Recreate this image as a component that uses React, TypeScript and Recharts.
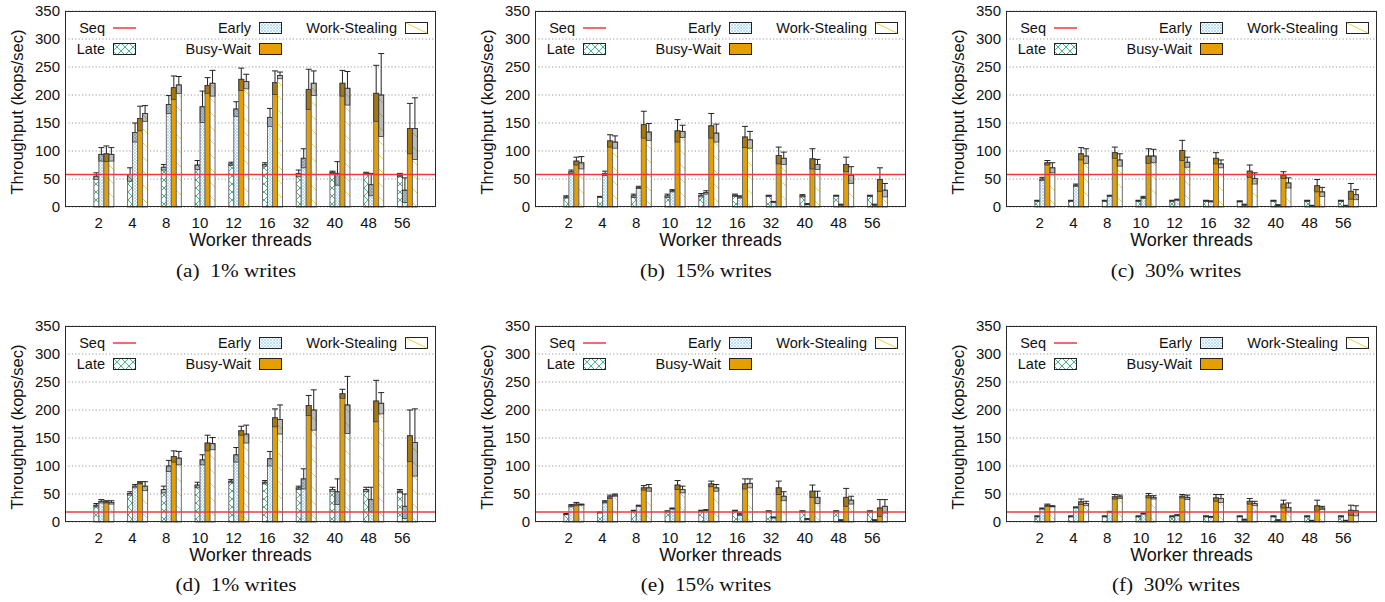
import React from 'react';
import {
  BarChart,
  Bar,
  XAxis,
  YAxis,
  CartesianGrid,
  ReferenceLine,
} from 'recharts';

// Worker thread counts (x categories)
const CATS = ['2', '4', '8', '10', '12', '16', '32', '40', '48', '56'];
const Y_TICKS = [0, 50, 100, 150, 200, 250, 300, 350];

// (a) 1% writes, top row
const A_LATE = [55, 58, 71, 75, 77, 76, 60, 62, 60, 57];
const A_LATE_ERR = [6, 12, 5, 8, 3, 3, 6, 2, 2, 3];
const A_EARLY = [94, 133, 183, 179, 175, 160, 87, 60, 40, 30];
const A_EARLY_ERR = [12, 17, 16, 28, 13, 16, 17, 21, 20, 22];
const A_BW = [95, 158, 213, 217, 228, 222, 210, 221, 203, 140];
const A_BW_ERR = [14, 22, 21, 14, 20, 21, 36, 23, 50, 45];
const A_WS = [94, 167, 218, 221, 224, 235, 221, 212, 200, 140];
const A_WS_ERR = [12, 14, 15, 23, 13, 6, 22, 30, 74, 55];
const A_SEQ = 58;

// (b) 15% writes, top row
const B_LATE = [18, 18, 20, 20, 21, 21, 20, 20, 20, 20];
const B_LATE_ERR = [2, 1, 3, 3, 3, 2, 1, 2, 1, 1];
const B_EARLY = [63, 60, 35, 29, 26, 18, 9, 5, 4, 4];
const B_EARLY_ERR = [3, 4, 2, 2, 3, 2, 1, 1, 1, 1];
const B_BW = [82, 118, 147, 136, 145, 125, 92, 86, 76, 49];
const B_BW_ERR = [7, 11, 24, 20, 22, 19, 15, 18, 13, 21];
const B_WS = [79, 116, 134, 135, 132, 120, 87, 76, 57, 30];
const B_WS_ERR = [11, 11, 15, 11, 16, 15, 11, 9, 15, 12];
const B_SEQ = 58;

// (c) 30% writes, top row
const C_LATE = [11, 11, 11, 11, 11, 11, 10, 11, 11, 11];
const C_LATE_ERR = [1, 1, 1, 1, 1, 1, 1, 1, 1, 1];
const C_EARLY = [50, 39, 20, 17, 13, 10, 4, 3, 2, 2];
const C_EARLY_ERR = [3, 2, 1, 2, 1, 1, 1, 1, 1, 1];
const C_BW = [79, 95, 97, 91, 101, 87, 64, 57, 38, 28];
const C_BW_ERR = [4, 11, 10, 13, 18, 10, 11, 6, 11, 14];
const C_WS = [70, 91, 84, 91, 80, 77, 51, 43, 27, 22];
const C_WS_ERR = [9, 13, 11, 12, 9, 7, 10, 9, 8, 9];
const C_SEQ = 58;

// (d) 1% writes, bottom row
const D_LATE = [30, 51, 58, 66, 73, 71, 61, 58, 58, 55];
const D_LATE_ERR = [3, 3, 6, 5, 3, 3, 3, 4, 4, 3];
const D_EARLY = [37, 64, 100, 111, 120, 113, 77, 54, 40, 28];
const D_EARLY_ERR = [3, 3, 10, 9, 13, 13, 18, 23, 22, 22];
const D_BW = [36, 70, 117, 141, 163, 186, 208, 229, 216, 154];
const D_BW_ERR = [2, 2, 10, 14, 8, 16, 18, 8, 37, 46];
const D_WS = [35, 64, 114, 140, 157, 183, 200, 209, 212, 142];
const D_WS_ERR = [3, 8, 12, 11, 16, 26, 36, 51, 19, 60];
const D_SEQ = 18;

// (e) 15% writes, bottom row
const E_LATE = [14, 17, 20, 19, 20, 20, 19, 19, 19, 19];
const E_LATE_ERR = [1, 1, 1, 1, 1, 1, 1, 1, 1, 1];
const E_EARLY = [29, 36, 29, 24, 21, 14, 8, 5, 3, 3];
const E_EARLY_ERR = [2, 2, 1, 1, 1, 2, 1, 1, 1, 1];
const E_BW = [32, 45, 61, 66, 68, 68, 61, 55, 44, 25];
const E_BW_ERR = [3, 3, 4, 8, 5, 9, 12, 11, 16, 15];
const E_WS = [31, 48, 61, 58, 61, 69, 46, 44, 39, 28];
const E_WS_ERR = [1, 2, 6, 6, 6, 8, 8, 11, 7, 12];
const E_SEQ = 18;

// (f) 30% writes, bottom row
const F_LATE = [10, 10, 10, 10, 10, 10, 10, 10, 10, 10];
const F_LATE_ERR = [1, 1, 1, 1, 1, 1, 1, 1, 1, 1];
const F_EARLY = [24, 26, 18, 15, 12, 9, 4, 3, 2, 2];
const F_EARLY_ERR = [1, 1, 1, 1, 1, 1, 1, 1, 1, 1];
const F_BW = [30, 36, 45, 47, 46, 43, 37, 32, 29, 21];
const F_BW_ERR = [2, 5, 4, 4, 3, 6, 5, 7, 10, 9];
const F_WS = [28, 33, 45, 44, 44, 42, 33, 26, 25, 20];
const F_WS_ERR = [1, 4, 3, 3, 4, 7, 4, 8, 3, 9];
const F_SEQ = 18;

const CAPTIONS = ['(a)  1% writes', '(b)  15% writes', '(c)  30% writes', '(d)  1% writes', '(e)  15% writes', '(f)  30% writes'];

const FONT = '"Liberation Sans", Arial, sans-serif';
const PLOT_W = 371;
const PLOT_H = 196;
const TOP_M = 11;
const X_AXIS_H = 40;
const SEQ_COLOR = '#ee3a3f';

// panel layout: plot-area left/top in page coordinates
const PANELS = [
  { late: A_LATE, lateErr: A_LATE_ERR, early: A_EARLY, earlyErr: A_EARLY_ERR, bw: A_BW, bwErr: A_BW_ERR, ws: A_WS, wsErr: A_WS_ERR, seq: A_SEQ, plotLeft: 65, plotTop: 11, yw: 65, caption: CAPTIONS[0], capX: 236, capY: 271 },
  { late: B_LATE, lateErr: B_LATE_ERR, early: B_EARLY, earlyErr: B_EARLY_ERR, bw: B_BW, bwErr: B_BW_ERR, ws: B_WS, wsErr: B_WS_ERR, seq: B_SEQ, plotLeft: 535, plotTop: 11, yw: 75, caption: CAPTIONS[1], capX: 706, capY: 271 },
  { late: C_LATE, lateErr: C_LATE_ERR, early: C_EARLY, earlyErr: C_EARLY_ERR, bw: C_BW, bwErr: C_BW_ERR, ws: C_WS, wsErr: C_WS_ERR, seq: C_SEQ, plotLeft: 1006, plotTop: 11, yw: 86, caption: CAPTIONS[2], capX: 1176, capY: 271 },
  { late: D_LATE, lateErr: D_LATE_ERR, early: D_EARLY, earlyErr: D_EARLY_ERR, bw: D_BW, bwErr: D_BW_ERR, ws: D_WS, wsErr: D_WS_ERR, seq: D_SEQ, plotLeft: 65, plotTop: 326, yw: 65, caption: CAPTIONS[3], capX: 236, capY: 585 },
  { late: E_LATE, lateErr: E_LATE_ERR, early: E_EARLY, earlyErr: E_EARLY_ERR, bw: E_BW, bwErr: E_BW_ERR, ws: E_WS, wsErr: E_WS_ERR, seq: E_SEQ, plotLeft: 535, plotTop: 326, yw: 75, caption: CAPTIONS[4], capX: 706, capY: 585 },
  { late: F_LATE, lateErr: F_LATE_ERR, early: F_EARLY, earlyErr: F_EARLY_ERR, bw: F_BW, bwErr: F_BW_ERR, ws: F_WS, wsErr: F_WS_ERR, seq: F_SEQ, plotLeft: 1006, plotTop: 326, yw: 86, caption: CAPTIONS[5], capX: 1176, capY: 585 },
];

const SERIES = [
  { key: 'late', errKey: 'lateErr', fill: 'url(#patLate)' },
  { key: 'early', errKey: 'earlyErr', fill: 'url(#patEarly)' },
  { key: 'bw', errKey: 'bwErr', fill: '#e69f00' },
  { key: 'ws', errKey: 'wsErr', fill: 'url(#patWS)' },
];

// gap between label and group center
const SHIFT = 5;
const HALF = PLOT_W / 22;

function Patterns() {
  return (
    <svg width={0} height={0} style={{ position: 'absolute' }}>
      <defs>
        <pattern id="patLate" patternUnits="userSpaceOnUse" width={8} height={8}>
          <rect width={8} height={8} fill="#fff" />
          <path d="M0,0 L8,8 M8,0 L0,8" stroke="#33b07f" strokeWidth={0.9} />
        </pattern>
        <pattern id="patEarly" patternUnits="userSpaceOnUse" width={3} height={3}>
          <rect width={3} height={3} fill="#fff" />
          <path d="M0,0 L3,3 M3,0 L0,3" stroke="#a9d7f4" strokeWidth={0.8} />
        </pattern>
        <pattern id="patWS" patternUnits="userSpaceOnUse" width={14} height={14}>
          <rect width={14} height={14} fill="#fff" />
          <path d="M0,0 L14,14" stroke="#e8d44d" strokeWidth={1} />
        </pattern>
      </defs>
    </svg>
  );
}

// bar with a shaded box below the top and a whisker above it
function makeShape(key: string, errKey: string, fill: string) {
  return (props: any) => {
    const { x, y, width, height, payload } = props;
    const value = payload[key];
    const err = payload[errKey];
    if (!value || !height) return <g />;
    const k = height / value;
    const boxH = Math.min(err * k, height);
    const cx = x + width / 2;
    const top = y - err * k;
    return (
      <g>
        <rect x={x} y={y} width={width} height={height} fill={fill} stroke="#6e6e6e" strokeWidth={1} />
        <rect x={x} y={y} width={width} height={boxH} fill="rgba(30,30,30,0.3)" stroke="#3a3a3a" strokeWidth={0.8} />
        <line x1={cx} y1={y} x2={cx} y2={top} stroke="#222" strokeWidth={1} />
        <line x1={cx - 3} y1={top} x2={cx + 3} y2={top} stroke="#222" strokeWidth={1} />
      </g>
    );
  };
}

function XTick(props: any) {
  const { x, y, payload } = props;
  return (
    <text x={x - SHIFT} y={y} dy="0.71em" textAnchor="middle" fontSize={15} fontFamily={FONT} fill="#111">
      {payload.value}
    </text>
  );
}

function Swatch({ kind }: { kind: string }) {
  if (kind === 'seq') {
    return (
      <svg width={23} height={12} style={{ display: 'block' }}>
        <line x1={0} y1={6} x2={23} y2={6} stroke={SEQ_COLOR} strokeWidth={1.5} />
      </svg>
    );
  }
  const fill = kind === 'late' ? 'url(#patLate)' : kind === 'early' ? 'url(#patEarly)' : kind === 'bw' ? '#e69f00' : '#fff';
  return (
    <svg width={23} height={12} style={{ display: 'block' }}>
      <rect x={0.5} y={0.5} width={22} height={11} fill={fill} stroke="#222" strokeWidth={1} />
      {kind === 'ws' && <line x1={1} y1={1} x2={22} y2={11} stroke="#e8d44d" strokeWidth={1} />}
    </svg>
  );
}

const LEGEND = [
  { label: 'Seq', kind: 'seq', tx: 40, ty: 17 },
  { label: 'Late', kind: 'late', tx: 40, ty: 38 },
  { label: 'Early', kind: 'early', tx: 186, ty: 17 },
  { label: 'Busy-Wait', kind: 'bw', tx: 186, ty: 38 },
  { label: 'Work-Stealing', kind: 'ws', tx: 332, ty: 17 },
];

function KeyBox({ left, top }: { left: number; top: number }) {
  return (
    <>
      {LEGEND.map((it) => (
        <React.Fragment key={it.label}>
          <div
            style={{
              position: 'absolute',
              left: left + it.tx - 200,
              top: top + it.ty - 9,
              width: 200,
              textAlign: 'right',
              fontFamily: FONT,
              fontSize: 14.5,
              lineHeight: '18px',
              color: '#111',
            }}
          >
            {it.label}
          </div>
          <div style={{ position: 'absolute', left: left + it.tx + 8, top: top + it.ty - 6 }}>
            <Swatch kind={it.kind} />
          </div>
        </React.Fragment>
      ))}
    </>
  );
}

function Panel({ p }: { p: any }) {
  const rows = CATS.map((cat, i) => ({
    cat,
    late: p.late[i],
    lateErr: p.lateErr[i],
    early: p.early[i],
    earlyErr: p.earlyErr[i],
    bw: p.bw[i],
    bwErr: p.bwErr[i],
    ws: p.ws[i],
    wsErr: p.wsErr[i],
  }));
  const chartW = p.yw + PLOT_W + 10;
  const chartH = TOP_M + PLOT_H + X_AXIS_H;
  const left = p.plotLeft - p.yw;
  const top = p.plotTop - TOP_M;
  return (
    <>
      <div style={{ position: 'absolute', left, top }}>
        <BarChart
          width={chartW}
          height={chartH}
          data={rows}
          barGap={0}
          barSize={5}
          margin={{ top: TOP_M, right: 10, bottom: 0, left: 0 }}
        >
          <CartesianGrid vertical={false} stroke="#9a9a9a" strokeDasharray="1.2 2.2" />
          <XAxis
            dataKey="cat"
            height={X_AXIS_H}
            padding={{ left: HALF + SHIFT, right: HALF - SHIFT }}
            axisLine={false}
            tickLine={false}
            tickSize={0}
            tickMargin={10}
            tick={<XTick />}
            interval={0}
          />
          <XAxis
            xAxisId="top"
            dataKey="cat"
            orientation="top"
            mirror
            height={0}
            padding={{ left: HALF + 1.5, right: HALF - 1.5 }}
            axisLine={false}
            tickSize={5}
            tickLine={{ stroke: '#333' }}
            tickFormatter={() => ''}
            interval={0}
          />
          <YAxis
            width={p.yw}
            domain={[0, 350]}
            ticks={Y_TICKS}
            axisLine={false}
            tickLine={false}
            tickSize={0}
            tickMargin={5}
            tick={{ fontSize: 15, fontFamily: FONT, fill: '#111' }}
          />
          <YAxis
            yAxisId="li"
            mirror
            width={0}
            domain={[0, 350]}
            ticks={Y_TICKS}
            axisLine={false}
            tickSize={5}
            tickLine={{ stroke: '#333' }}
            tickFormatter={() => ''}
          />
          <YAxis
            yAxisId="r"
            orientation="right"
            mirror
            width={0}
            domain={[0, 350]}
            ticks={Y_TICKS}
            axisLine={false}
            tickSize={5}
            tickLine={{ stroke: '#333' }}
            tickFormatter={() => ''}
          />
          {SERIES.map((s) => (
            <Bar
              key={s.key}
              dataKey={s.key}
              fill={s.fill}
              isAnimationActive={false}
              shape={makeShape(s.key, s.errKey, s.fill)}
            />
          ))}
          <ReferenceLine y={p.seq} stroke={SEQ_COLOR} strokeWidth={1.5} />
        </BarChart>
      </div>
      {/* plot border */}
      <div
        style={{
          position: 'absolute',
          left: p.plotLeft,
          top: p.plotTop,
          width: PLOT_W - 2,
          height: PLOT_H - 2,
          border: '1px solid #2a2a2a',
          pointerEvents: 'none',
        }}
      />
      <KeyBox left={p.plotLeft} top={p.plotTop} />
      {/* y label */}
      <div
        style={{
          position: 'absolute',
          left: p.plotLeft - 48 - 120,
          top: p.plotTop + 101 - 11,
          width: 240,
          height: 22,
          lineHeight: '22px',
          textAlign: 'center',
          fontFamily: FONT,
          fontSize: 16.5,
          color: '#111',
          transform: 'rotate(-90deg)',
        }}
      >
        Throughput (kops/sec)
      </div>
      {/* x label */}
      <div
        style={{
          position: 'absolute',
          left: p.plotLeft + PLOT_W / 2 - 120,
          top: p.plotTop + 229 - 11,
          width: 240,
          lineHeight: '22px',
          textAlign: 'center',
          fontFamily: FONT,
          fontSize: 18,
          color: '#111',
        }}
      >
        Worker threads
      </div>
      {/* caption */}
      <div
        style={{
          position: 'absolute',
          left: p.capX - 120,
          top: p.capY - 12,
          width: 240,
          lineHeight: '24px',
          textAlign: 'center',
          fontFamily: '"Liberation Serif", "Times New Roman", serif',
          fontSize: 19,
          whiteSpace: 'pre',
          color: '#111',
          transform: 'scaleX(1.12)',
        }}
      >
        {p.caption}
      </div>
    </>
  );
}

export default function App() {
  return (
    <div style={{ position: 'absolute', left: 0, top: 0, width: 1385, height: 602, background: '#fff', overflow: 'hidden' }}>
      <Patterns />
      {PANELS.map((p, i) => (
        <Panel key={i} p={p} />
      ))}
    </div>
  );
}
